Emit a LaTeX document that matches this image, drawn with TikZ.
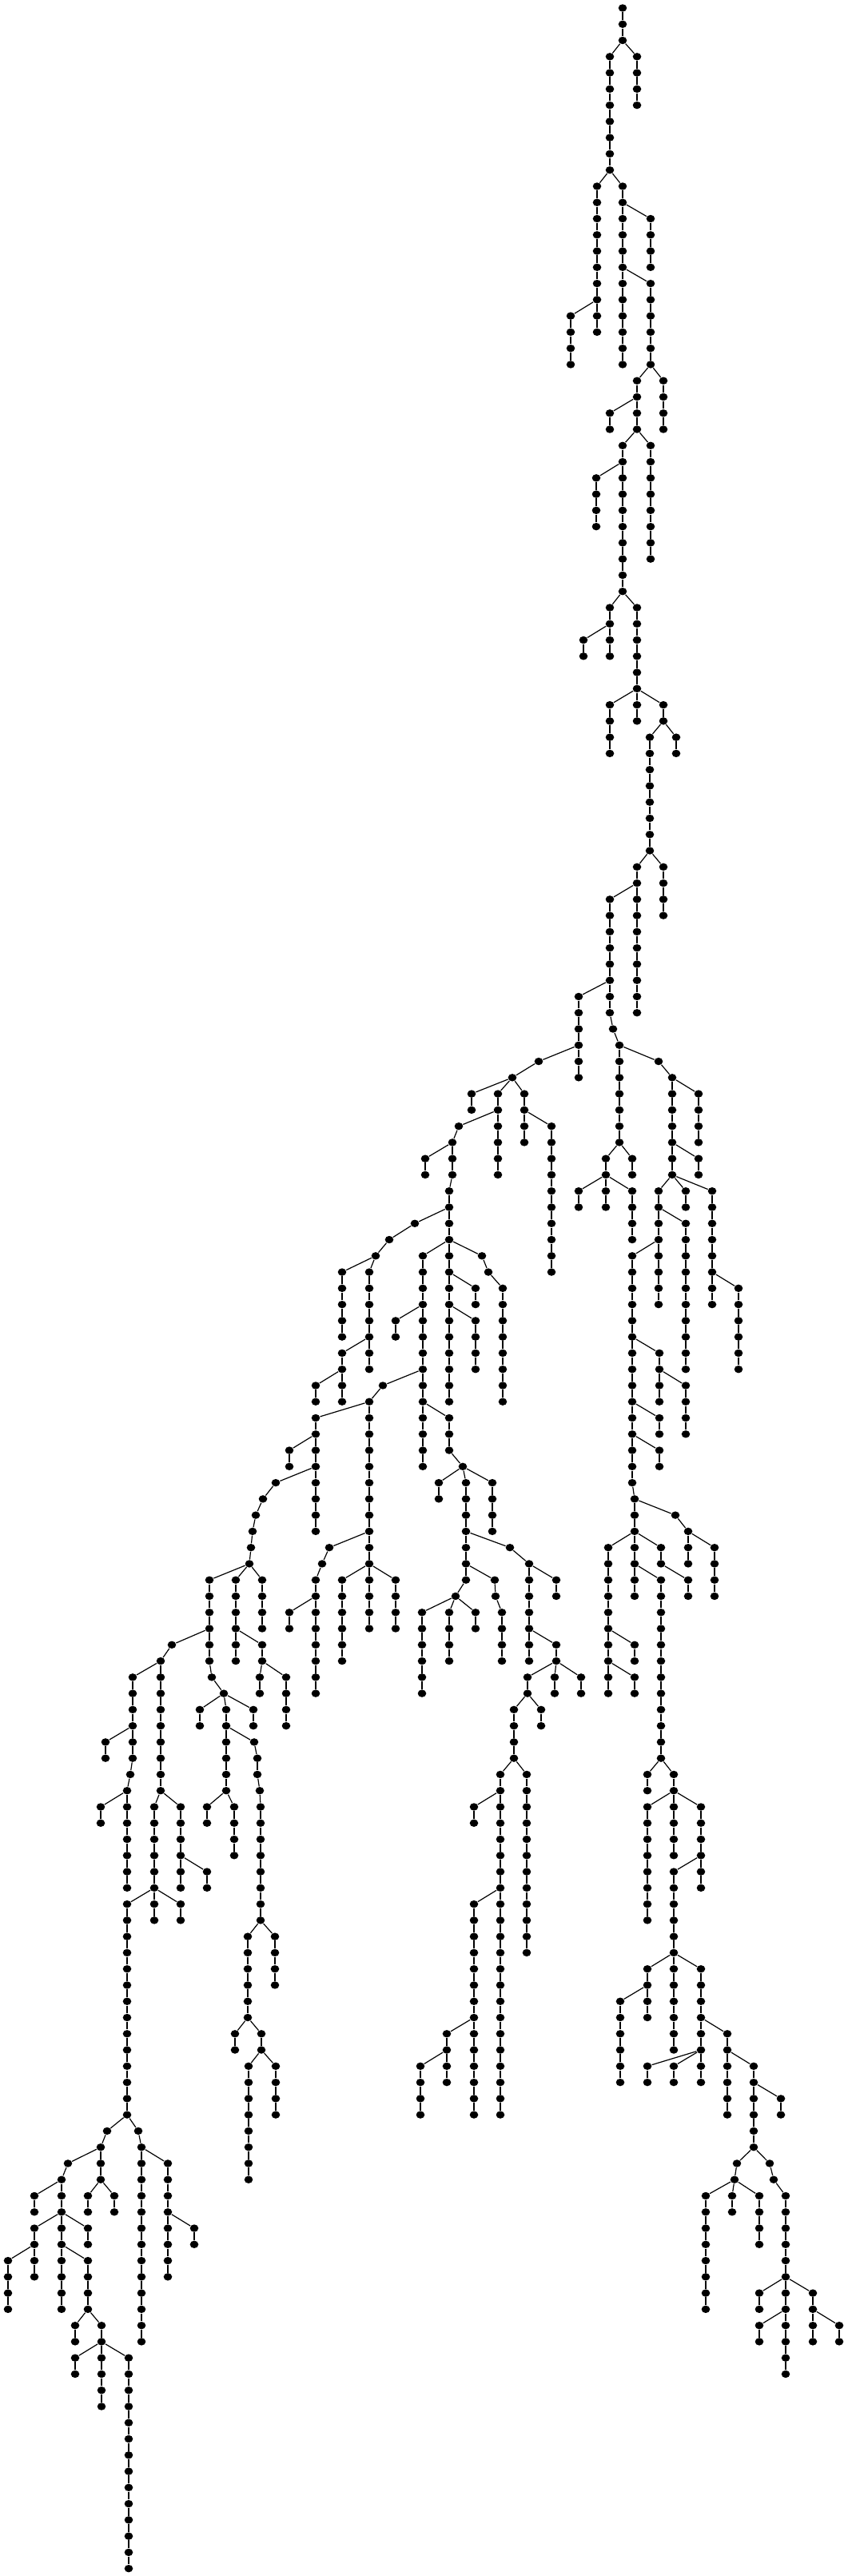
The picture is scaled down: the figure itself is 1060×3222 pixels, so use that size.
\documentclass[tikz,border=0pt]{standalone}
\usetikzlibrary{shapes.geometric}
\tikzset{
  dot/.style={ellipse, fill, inner sep=0pt, minimum width=5.3pt, minimum height=4.7pt},
}
% a vertical run of dots: name, parent, x, first level, last level
\newcommand{\limb}[5]{%
  \foreach \lv in {#4,...,#5}{
    \node[dot] (#1-\lv) at (#3, {10+20.27*\lv}) {};
  }
  \draw (#2) -- (#1-#4);
  \foreach \lv [remember=\lv as \up (initially #4)] in {#4,...,#5}{
    \ifnum\lv>#4\relax \draw (#1-\up) -- (#1-\lv); \fi
  }
}
\begin{document}
\begin{tikzpicture}[x=0.5pt, y=-0.5pt, line width=0.6pt]
\useasboundingbox (0,0) rectangle (1060,3222);
\node[dot] (r-0) at (779,10) {};
\limb{r}{r-0}{779}{1}{2}
\limb{a}{r-2}{797}{3}{6}
\limb{b}{r-2}{763}{3}{10}
\limb{c}{b-10}{747}{11}{20}
\limb{d}{c-18}{714}{19}{22}
\limb{e}{b-10}{779}{11}{22}
\limb{f}{e-12}{814}{13}{16}
\limb{g}{e-16}{814}{17}{22}
\limb{h}{g-22}{830}{23}{26}
\limb{i}{g-22}{797}{23}{26}
\limb{j}{i-24}{763}{25}{26}
\limb{k}{i-26}{814}{27}{34}
\limb{m}{i-26}{779}{27}{36}
\limb{n}{m-28}{746}{29}{32}
\limb{o}{m-36}{763}{37}{40}
\limb{p}{o-38}{730}{39}{40}
\limb{q}{m-36}{797}{37}{42}
\limb{s}{q-42}{763}{43}{46}
\limb{t}{q-42}{797}{43}{44}
\limb{u}{q-42}{830}{43}{44}
\limb{v}{u-44}{846}{45}{46}
\limb{w}{u-44}{813}{45}{52}
\limb{x}{w-52}{830}{53}{56}
\limb{y}{w-52}{797}{53}{62}
\limb{z}{y-54}{763}{55}{62}
\limb{za}{z-62}{767}{63}{63}
\limb{zb}{za-63}{775}{64}{70}
% left part
\limb{aa}{z-60}{724}{61}{66}
\limb{ab}{aa-64}{674}{65}{65}
\limb{ac}{ab-65}{641}{66}{66}
\limb{ad}{ac-66}{590}{67}{68}
\limb{ae}{ac-66}{623}{67}{72}
\limb{af}{ac-66}{656}{67}{70}
\limb{ag}{af-68}{690}{69}{78}
\limb{ah}{ae-68}{574}{69}{69}
\limb{ai}{ah-69}{566}{70}{72}
\limb{aj}{ai-70}{532}{71}{72}
\limb{ak}{ai-72}{562}{73}{86}
\limb{al}{ak-74}{519}{75}{75}
\limb{gz}{al-75}{487}{76}{76}
\limb{ha}{gz-76}{470}{77}{77}
\limb{gv}{ha-77}{428}{78}{82}
\limb{gw}{ha-77}{462}{78}{84}
\limb{gx}{gw-82}{428}{83}{86}
\limb{gy}{gx-84}{395}{85}{86}
\limb{am}{ak-76}{529}{77}{90}
\limb{an}{ak-76}{603}{77}{77}
\limb{ao}{an-77}{611}{78}{78}
\limb{ap}{ao-78}{629}{79}{86}
\limb{aq}{ak-78}{595}{79}{80}
\limb{ar}{ak-80}{595}{81}{84}
\limb{as}{am-80}{495}{81}{82}
\limb{at}{am-84}{479}{85}{85}
\limb{au}{at-85}{462}{86}{100}
\limb{av}{am-86}{562}{87}{89}
\limb{aw}{av-89}{579}{90}{90}
\limb{ax}{aw-90}{549}{91}{92}
\limb{ay}{aw-90}{583}{91}{97}
\limb{az}{aw-90}{616}{91}{94}
\limb{ba}{ay-97}{570}{98}{98}
\limb{bb}{ba-98}{528}{99}{104}
\limb{bc}{ba-98}{562}{99}{102}
\limb{bd}{ba-98}{595}{99}{100}
\limb{be}{ay-96}{619}{97}{97}
\limb{bf}{be-97}{620}{98}{98}
\limb{bg}{bf-98}{628}{99}{102}
\limb{bh}{ay-94}{638}{95}{95}
\limb{bi}{bh-95}{662}{96}{102}
\limb{bj}{bi-96}{696}{97}{98}
\limb{bk}{bi-100}{696}{101}{102}
\limb{bl}{au-86}{395}{87}{94}
\limb{bm}{bl-88}{362}{89}{90}
\limb{bn}{bl-90}{345}{91}{91}
\limb{bo}{bn-91}{329}{92}{92}
\limb{bp}{bo-92}{320}{93}{93}
\limb{bq}{bp-93}{316}{94}{94}
\limb{br}{bq-94}{314}{95}{95}
\limb{bs}{br-95}{312}{96}{96}
\limb{gp}{au-94}{412}{95}{95}
\limb{gq}{gp-95}{403}{96}{96}
\limb{gr}{gq-96}{395}{97}{104}
\limb{gs}{gr-98}{362}{99}{100}
\limb{gt}{au-96}{428}{97}{102}
\limb{gu}{au-96}{495}{97}{100}
\limb{bt}{bs-96}{262}{97}{102}
\limb{bu}{bs-96}{295}{97}{102}
\limb{bv}{bs-96}{328}{97}{100}
\limb{bw}{bu-100}{328}{101}{102}
\limb{bx}{bw-102}{325}{103}{104}
\limb{by}{bw-102}{358}{103}{106}
\limb{bz}{bt-100}{215}{101}{101}
\limb{ca}{bz-101}{201}{102}{110}
\limb{cb}{ca-102}{166}{103}{108}
\limb{cc}{cb-108}{163}{109}{109}
\limb{cd}{cc-109}{159}{110}{116}
\limb{ce}{cd-110}{126}{111}{112}
\limb{cf}{cb-106}{132}{107}{108}
\limb{cg}{ca-110}{193}{111}{116}
\limb{ch}{ca-110}{226}{111}{116}
\limb{ci}{ch-114}{259}{115}{116}
\limb{cj}{cg-116}{159}{117}{130}
\limb{ck}{cg-116}{193}{117}{118}
\limb{cl}{cg-116}{226}{117}{118}
\limb{cm}{bt-102}{265}{103}{103}
\limb{cn}{cm-103}{280}{104}{104}
\limb{co}{cn-104}{250}{105}{106}
\limb{cp}{cn-104}{283}{105}{110}
\limb{cq}{cn-104}{317}{105}{106}
\limb{cr}{cp-110}{259}{111}{112}
\limb{cs}{cp-110}{293}{111}{114}
\limb{ct}{cp-106}{318}{107}{107}
\limb{cu}{ct-107}{322}{108}{109}
\limb{cv}{cu-109}{325}{110}{110}
\limb{cw}{cv-110}{326}{111}{118}
\limb{cx}{cw-118}{310}{119}{124}
\limb{cy}{cw-118}{344}{119}{122}
\limb{cz}{cx-124}{294}{125}{126}
\limb{da}{cx-124}{327}{125}{126}
\limb{db}{da-126}{311}{127}{134}
\limb{dc}{da-126}{345}{127}{130}
\limb{dd}{cj-130}{134}{131}{131}
\limb{de}{dd-131}{126}{132}{134}
\limb{df}{de-132}{85}{133}{133}
\limb{dg}{df-133}{77}{134}{142}
\limb{dh}{dg-134}{43}{135}{136}
\limb{di}{dg-136}{43}{137}{140}
\limb{dj}{dg-136}{110}{137}{138}
\limb{dk}{di-138}{10}{139}{142}
\limb{dl}{dg-138}{110}{139}{142}
\limb{dm}{de-134}{110}{135}{136}
\limb{dn}{de-134}{143}{135}{136}
\limb{do}{cj-130}{173}{131}{131}
\limb{dp}{do-131}{177}{132}{144}
\limb{dq}{dp-132}{210}{133}{140}
\limb{dr}{dq-136}{243}{137}{138}
\limb{ds}{dl-142}{94}{143}{144}
\limb{dt}{dl-142}{127}{143}{144}
\limb{du}{dt-144}{94}{145}{146}
\limb{dv}{dt-144}{127}{145}{148}
\limb{dw}{dt-144}{161}{145}{158}
\limb{dx}{bk-102}{660}{103}{104}
\limb{dy}{bk-102}{694}{103}{104}
\limb{dz}{bk-102}{727}{103}{104}
\limb{ea}{dx-104}{643}{105}{108}
\limb{eb}{dx-104}{677}{105}{106}
\limb{ec}{ea-108}{626}{109}{130}
\limb{ed}{ea-108}{659}{109}{120}
\limb{ee}{ec-110}{593}{111}{112}
\limb{ef}{ec-116}{593}{117}{130}
\limb{eg}{ef-124}{559}{125}{128}
\limb{eh}{eg-126}{526}{127}{130}
% right part
\limb{ei}{zb-64}{824}{65}{65}
\limb{ej}{ei-65}{841}{66}{72}
\limb{ek}{ej-66}{874}{67}{70}
\limb{el}{ej-70}{874}{71}{72}
\limb{em}{ej-72}{824}{73}{80}
\limb{en}{ej-72}{858}{73}{74}
\limb{eo}{ej-72}{891}{73}{80}
\limb{ep}{em-74}{858}{75}{84}
\limb{eq}{em-76}{791}{77}{91}
\limb{er}{eo-78}{924}{79}{84}
\limb{es}{zb-70}{758}{71}{72}
\limb{et}{zb-70}{791}{71}{72}
\limb{eu}{es-72}{724}{73}{74}
\limb{ev}{es-72}{758}{73}{74}
\limb{ew}{es-72}{791}{73}{76}
\limb{ex}{eq-82}{825}{83}{86}
\limb{ey}{ex-84}{858}{85}{88}
\limb{ez}{eq-86}{825}{87}{88}
\limb{fa}{eq-88}{825}{89}{90}
\limb{fb}{eq-91}{794}{92}{94}
\limb{fc}{fb-92}{845}{93}{93}
\limb{fd}{fc-93}{861}{94}{94}
\limb{fe}{fd-94}{861}{95}{96}
\limb{ff}{fd-94}{894}{95}{98}
\limb{fg}{fb-94}{761}{95}{104}
\limb{fh}{fb-94}{794}{95}{98}
\limb{fi}{fb-94}{827}{95}{96}
\limb{fj}{fh-96}{827}{97}{108}
\limb{fk}{fi-96}{861}{97}{98}
\limb{fl}{fg-100}{794}{101}{102}
\limb{fm}{fg-102}{794}{103}{104}
\limb{fn}{fj-108}{810}{109}{110}
\limb{fo}{fj-108}{843}{109}{110}
\limb{fp}{fo-110}{810}{111}{118}
\limb{fq}{fo-110}{843}{111}{114}
\limb{fr}{fo-110}{877}{111}{116}
\limb{fs}{fr-114}{843}{115}{120}
\limb{ft}{fs-120}{810}{121}{124}
\limb{fu}{fs-120}{843}{121}{126}
\limb{fv}{fs-120}{877}{121}{128}
\limb{fw}{ft-122}{776}{123}{128}
\limb{fx}{fv-126}{810}{127}{128}
\limb{fy}{fv-126}{843}{127}{128}
\limb{fz}{fv-124}{910}{125}{130}
\limb{ga}{fz-126}{943}{127}{132}
\limb{gb}{ga-128}{977}{129}{130}
\limb{gc}{ga-132}{922}{133}{133}
\limb{gd}{gc-133}{919}{134}{134}
\limb{ge}{gd-134}{883}{135}{142}
\limb{gf}{gd-134}{916}{135}{136}
\limb{gg}{gd-134}{950}{135}{138}
\limb{gh}{ga-132}{963}{133}{133}
\limb{gi}{gh-133}{968}{134}{134}
\limb{gj}{gi-134}{983}{135}{140}
\limb{gk}{gj-140}{950}{141}{142}
\limb{gl}{gj-140}{983}{141}{146}
\limb{gm}{gj-140}{1017}{141}{144}
\limb{gn}{gl-142}{950}{143}{144}
\limb{go}{gm-142}{1050}{143}{144}
\end{tikzpicture}
\end{document}
